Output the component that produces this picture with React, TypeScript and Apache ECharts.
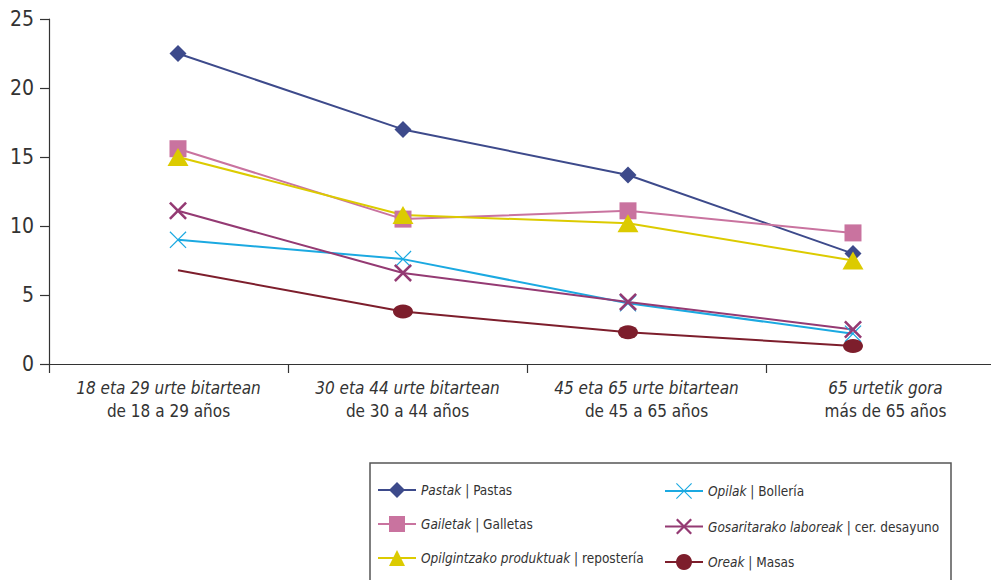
import React, { useEffect, useRef } from 'react';
import * as echarts from 'echarts';

const categoriesEu = ['18 eta 29 urte bitartean', '30 eta 44 urte bitartean', '45 eta 65 urte bitartean', '65 urtetik gora'];
const categoriesEs = ['de 18 a 29 años', 'de 30 a 44 años', 'de 45 a 65 años', 'más de 65 años'];
const yTicks = [0, 5, 10, 15, 20, 25];

const pastak = [22.5, 17.0, 13.7, 8.0];
const gailetak = [15.6, 10.5, 11.1, 9.5];
const opilgintzako = [15.0, 10.8, 10.2, 7.5];
const opilak = [9.0, 7.6, 4.4, 2.2];
const gosaritarako = [11.1, 6.6, 4.5, 2.5];
const oreak = [6.8, 3.8, 2.3, 1.3];

const names = [
  'Pastak | Pastas',
  'Gailetak | Galletas',
  'Opilgintzako produktuak | repostería',
  'Opilak | Bollería',
  'Gosaritarako laboreak | cer. desayuno',
  'Oreak | Masas',
];

const FONT = "'Liberation Sans Narrow', 'DejaVu Sans Condensed', 'Roboto', sans-serif";

const thinX = 'path://M1,0L10,9L19,0L20,1L11,10L20,19L19,20L10,11L1,20L0,19L9,10L0,1Z';
const thickX = 'path://M2,0L10,8L18,0L20,2L12,10L20,18L18,20L10,12L2,20L0,18L8,10L0,2Z';

function pts(arr: number[]) {
  return arr.map((v, i) => [i, v]);
}

export default function App() {
  const ref = useRef<HTMLDivElement>(null);
  useEffect(() => {
    if (!ref.current) return;
    const chart = echarts.init(ref.current, undefined, { renderer: 'svg' });
    const legendFormatter = (name: string) => {
      const [a, b] = name.split(' | ');
      return `{i|${a}} | ${b}`;
    };
    const legendText = {
      fontFamily: FONT,
      fontSize: 13.5,
      color: '#333',
      rich: { i: { fontStyle: 'italic', fontFamily: FONT, fontSize: 13.5, color: '#333' } },
    };
    const oreakData: any[] = pts(oreak).map((p, i) => (i === 0 ? { value: p, symbol: 'none' } : p));
    const mk = (name: string, data: any[], color: string, symbol: string, size: any) => ({
      name,
      type: 'line',
      xAxisIndex: 1,
      data,
      symbol,
      symbolSize: size,
      lineStyle: { color, width: 2 },
      itemStyle: { color },
      z: 3,
    });
    chart.setOption({
      animation: false,
      textStyle: { fontFamily: FONT },
      grid: { left: 49, width: 956, top: 19, bottom: 216, containLabel: false, outerBoundsMode: 'none' },
      xAxis: [
        {
          type: 'category',
          data: categoriesEu,
          boundaryGap: true,
          axisLine: { lineStyle: { color: '#333', width: 1.2 } },
          axisTick: { show: true, length: 9, lineStyle: { color: '#333', width: 1.2 } },
          axisLabel: {
            margin: 12,
            interval: 0,
            formatter: (v: string, i: number) => `{a|${v}}\n{b|${categoriesEs[i]}}`,
            rich: {
              a: { fontFamily: FONT, fontStyle: 'italic', fontSize: 17, color: '#333', lineHeight: 23 },
              b: { fontFamily: FONT, fontSize: 17, color: '#333', lineHeight: 23 },
            },
          },
        },
        {
          type: 'value',
          show: false,
          min: -0.5733,
          max: 3.6756,
          position: 'bottom',
        },
      ],
      yAxis: {
        type: 'value',
        min: yTicks[0],
        max: yTicks[yTicks.length - 1],
        interval: 5,
        axisLine: { show: true, onZero: false, lineStyle: { color: '#333', width: 1.2 } },
        axisTick: { show: true, length: 9, lineStyle: { color: '#333', width: 1.2 } },
        splitLine: { show: false },
        axisLabel: { margin: 15, fontSize: 21, color: '#333', fontFamily: FONT },
      },
      legend: [
        {
          data: [names[0], names[1], names[2]],
          orient: 'vertical',
          left: 372,
          top: 477,
          itemWidth: 38,
          itemHeight: 20,
          itemGap: 18,
          formatter: legendFormatter,
          textStyle: legendText,
        },
        {
          data: [names[3], names[4], names[5]],
          orient: 'vertical',
          left: 659,
          top: 478,
          itemWidth: 38,
          itemHeight: 20,
          itemGap: 19.5,
          formatter: legendFormatter,
          textStyle: legendText,
        },
      ],
      graphic: [
        {
          type: 'rect',
          shape: { x: 370, y: 463, width: 581, height: 140 },
          style: { fill: 'none', stroke: '#555', lineWidth: 1.5 },
          silent: true,
        },
      ],
      series: [
        mk(names[0], pts(pastak), '#3d4a8b', 'diamond', 17),
        mk(names[1], pts(gailetak), '#c9739f', 'rect', 17),
        mk(names[2], pts(opilgintzako), '#dccb00', 'triangle', [21, 18]),
        mk(names[3], pts(opilak), '#1ba9e1', thinX, 17),
        mk(names[4], pts(gosaritarako), '#943a73', thickX, 18),
        mk(names[5], oreakData, '#7d1e2c', 'circle', [20, 14]),
      ],
    });
    return () => chart.dispose();
  }, []);
  return <div ref={ref} style={{ position: 'absolute', left: 0, top: 0, width: 991, height: 580 }} />;
}
